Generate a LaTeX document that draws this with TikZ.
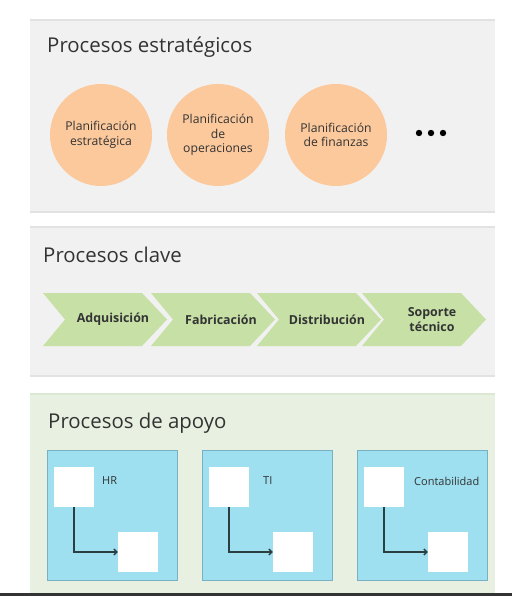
\documentclass[tikz,border=0pt]{standalone}
\usepackage{fontspec}
\setmainfont{Open Sans}
\usepackage{tikz}
\usetikzlibrary{positioning,arrows.meta}

\definecolor{panelgray}{HTML}{F1F1F1}
\definecolor{panelline}{HTML}{E2E2E2}
\definecolor{panelgreen}{HTML}{E8F1E1}
\definecolor{greenline}{HTML}{DCE8D4}
\definecolor{peach}{HTML}{FCC99D}
\definecolor{chevgreen}{HTML}{C6E0A6}
\definecolor{boxblue}{HTML}{9EE0EF}
\definecolor{boxline}{HTML}{78B0C4}
\definecolor{darktext}{HTML}{333333}
\definecolor{arrowline}{HTML}{2B3E42}

\tikzset{
  title/.style={anchor=base west, inner sep=0pt, font=\fontsize{17.4}{20}\selectfont, text=darktext},
  planif/.style={circle, fill=peach, minimum size=3.06cm, inner sep=0pt, align=center,
    font=\fontsize{10.4}{12.6}\selectfont, text=darktext},
  chevtext/.style={inner sep=0pt, align=center, font=\fontsize{10.6}{13}\selectfont\bfseries, text=darktext},
  support/.style={draw=boxline, fill=boxblue, line width=0.6pt, minimum width=3.9cm, minimum height=3.9cm, inner sep=0pt},
  whitebox/.style={fill=white, minimum size=1.2cm, inner sep=0pt},
  boxlabel/.style={anchor=west, inner sep=0pt, font=\fontsize{9.4}{11}\selectfont, text=darktext}
}

\begin{document}
\begin{tikzpicture}[x=0.03cm, y=-0.03cm]
\useasboundingbox (0,0) rectangle (512,596);
\fill[white] (0,0) rectangle (512,596);

% panels
\fill[panelgray] (30,19) rectangle (495,213);
\fill[panelline] (30,19) rectangle (495,21);
\fill[panelline] (30,211) rectangle (495,213);
\fill[panelgray] (30,226) rectangle (495,377);
\fill[panelline] (30,226) rectangle (495,228);
\fill[panelline] (30,375) rectangle (495,377);
\fill[panelgreen] (30,393) rectangle (495,593);
\fill[greenline] (30,393) rectangle (495,395);
\fill[darktext] (0,593) rectangle (512,596);

\node[title] (estr) at (47,53) {Procesos estratégicos};
\node[title] (clave) at (43,262) {Procesos clave};
\node[title] (apoyo) at (48,428) {Procesos de apoyo};

% estrategicos
\node[planif] (p1) at (101,135) {Planificación\\estratégica};
\node[planif] (p2) at (218,135) {Planificación\\de\\operaciones};
\node[planif] (p3) at (336,135) {Planificación\\de finanzas};
\foreach \x in {419,431,443}
  \fill[black] (\x,133) circle (3.2);

% clave
\foreach \x/\name/\txt in {43/adq/{Adquisición}, 151/fab/{Fabricación}, 257/dis/{Distribución}, 362/sop/{Soporte\\técnico}} {
  \fill[chevgreen] (\x,293) -- (\x+99,293) -- (\x+124,319.5) -- (\x+99,346) -- (\x,346) -- (\x+22,319.5) -- cycle;
  \node[chevtext] (\name) at (\x+70,319.5) {\txt};
}

% apoyo
\foreach \x/\name/\off/\txt in {47/hr/55/HR, 202/ti/61/TI, 357/cont/57/Contabilidad} {
  \node[support, anchor=north west] (\name) at (\x,450) {};
  \node[whitebox] (\name a) at (\x+27,487) {};
  \node[whitebox] (\name b) at (\x+91,552) {};
  \node[boxlabel] (\name l) at (\x+\off,481) {\txt};
  \draw[arrowline, line width=1.2pt, -{Straight Barb[length=2.5pt,width=5pt]}] (\name a.south) |- (\name b.west);
}
\end{tikzpicture}
\end{document}
